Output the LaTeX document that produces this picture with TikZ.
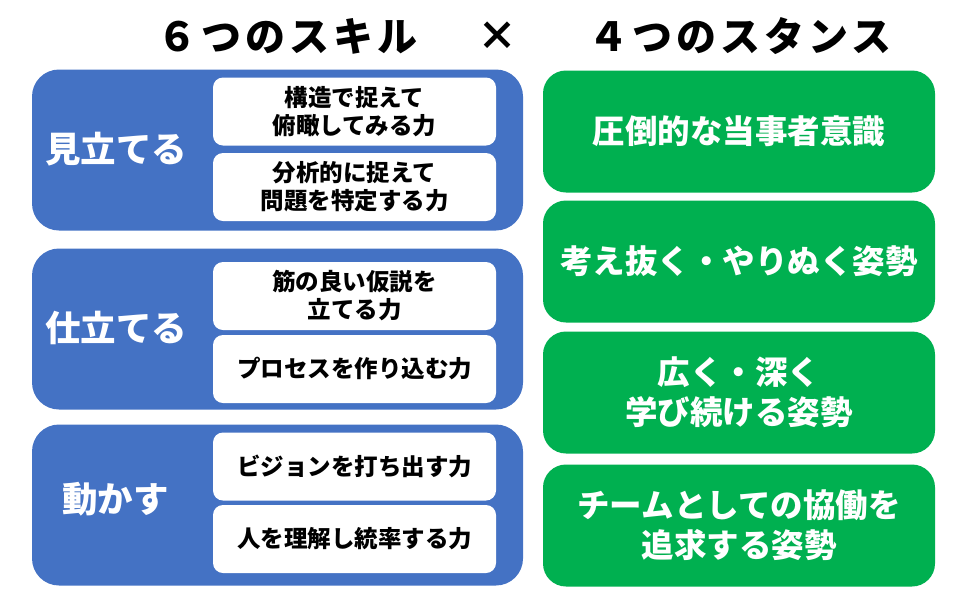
\documentclass[tikz,border=0pt]{standalone}
\usepackage{fontspec}
\setmainfont{Noto Sans CJK JP}
\definecolor{pblue}{HTML}{4472C4}
\definecolor{pgreen}{HTML}{00B050}
\begin{document}
\begin{tikzpicture}[x=1pt,y=-1pt,
  panel/.style={fill=pblue, rounded corners=27pt, minimum width=491pt, minimum height=161pt, inner sep=0pt},
  wbox/.style={fill=white, rounded corners=10pt, minimum width=283pt, minimum height=68pt, inner sep=0pt,
    align=center, font=\bfseries\fontsize{23.5}{28}\selectfont},
  gbox/.style={fill=pgreen, rounded corners=23pt, minimum width=392pt, minimum height=122pt, inner sep=0pt,
    align=center, text=white, font=\bfseries\fontsize{32.5}{40}\selectfont},
  plabel/.style={text=white, font=\bfseries\fontsize{35.5}{40}\selectfont, inner sep=0pt},
  ttl/.style={font=\bfseries\fontsize{40}{44}\selectfont\addfontfeature{LetterSpace=10}, inner sep=0pt}]
\useasboundingbox (0,0) rectangle (960,600);
% titles
\node[ttl] (t1) at (287,36) {６つのスキル};
\node[ttl] (tx) at (497,36) {×};
\node[ttl] (t2) at (740,36) {４つのスタンス};
% blue panels
\node[panel] (p1) at (277.5,150) {};
\node[panel] (p2) at (277.5,329) {};
\node[panel] (p3) at (277.5,505) {};
\node[plabel] (l1) at (116,149) {見立てる};
\node[plabel] (l2) at (116,328) {仕立てる};
\node[plabel] (l3) at (115.5,499) {動かす};
% white boxes
\node[wbox] (w1) at (354.5,111.5) {構造で捉えて\\俯瞰してみる力};
\node[wbox] (w2) at (354.5,187) {分析的に捉えて\\問題を特定する力};
\node[wbox] (w3) at (354.5,296) {筋の良い仮説を\\立てる力};
\node[wbox] (w4) at (354.5,369) {プロセスを作り込む力};
\node[wbox] (w5) at (354.5,466.5) {ビジョンを打ち出す力};
\node[wbox] (w6) at (354.5,539) {人を理解し統率する力};
% green boxes
\node[gbox] (g1) at (739,131.5) {圧倒的な当事者意識};
\node[gbox] (g2) at (739,261.5) {考え抜く・やりぬく姿勢};
\node[gbox] (g3) at (739,392.5) {広く・深く\\学び続ける姿勢};
\node[gbox] (g4) at (739,525.5) {チームとしての協働を\\追求する姿勢};
\end{tikzpicture}
\end{document}
